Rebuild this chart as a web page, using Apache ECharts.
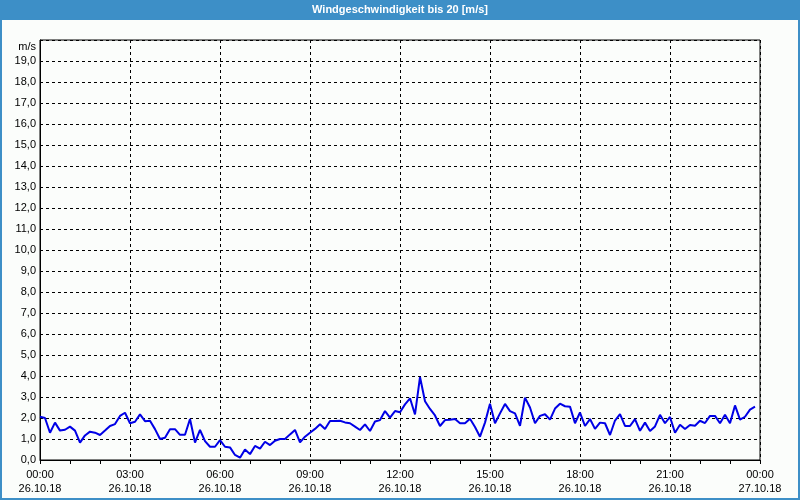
<!DOCTYPE html>
<html>
<head>
<meta charset="utf-8">
<script src="https://cdn.jsdelivr.net/npm/echarts@6/dist/echarts.min.js"></script>
<style>html,body{margin:0;padding:0;background:#fbfdfb}#c{width:800px;height:500px}</style>
</head>
<body>
<div id="c"></div>
<script>
const chartTitle = 'Windgeschwindigkeit bis 20 [m/s]';
const unitLabel = 'm/s';
const sampleStepMinutes = 10;
const xTickLabels = ['00:00\n26.10.18','03:00\n26.10.18','06:00\n26.10.18','09:00\n26.10.18','12:00\n26.10.18','15:00\n26.10.18','18:00\n26.10.18','21:00\n26.10.18','00:00\n27.10.18'];
const windSpeed = [
  2.06,2.0,1.3,1.78,1.4,1.44,1.59,1.4,0.83,1.17,1.35,1.3,1.19,1.4,1.62,1.71,2.1,2.25,1.75,1.82,
  2.17,1.85,1.87,1.47,1.0,1.06,1.47,1.47,1.2,1.2,1.95,0.83,1.43,0.9,0.63,0.63,0.95,0.63,0.6,0.24,
  0.11,0.5,0.28,0.67,0.54,0.87,0.71,0.92,1.0,1.0,1.22,1.43,0.84,1.11,1.3,1.48,1.7,1.48,1.86,1.86,
  1.87,1.79,1.75,1.59,1.43,1.7,1.38,1.83,1.9,2.33,2.02,2.33,2.27,2.65,2.94,2.17,3.95,2.8,2.43,2.12,
  1.62,1.9,1.92,1.95,1.75,1.75,1.96,1.57,1.11,1.78,2.68,1.75,2.22,2.67,2.33,2.22,1.63,2.97,2.5,1.75,
  2.1,2.18,1.92,2.45,2.68,2.56,2.54,1.75,2.26,1.62,1.95,1.48,1.78,1.75,1.19,1.88,2.18,1.62,1.62,1.95,
  1.39,1.78,1.38,1.6,2.15,1.75,2.05,1.3,1.68,1.48,1.67,1.63,1.87,1.76,2.1,2.1,1.75,2.15,1.75,2.6,
  1.92,2.06,2.4,2.54
];

const FONT = 'Liberation Sans';
const chart = echarts.init(document.getElementById('c'), null, {renderer: 'canvas'});
chart.setOption({
  backgroundColor: '#fbfdfb',
  animation: false,
  grid: {left: 40, right: 40, top: 40, bottom: 40, show: true, borderColor: '#000', borderWidth: 1, backgroundColor: 'transparent'},
  xAxis: [{
    type: 'value', min: 0, max: 1440, interval: 180,
    axisLine: {show: true, lineStyle: {color: '#000', width: 1}},
    axisTick: {show: false},
    splitLine: {show: true, lineStyle: {color: '#000', type: [3, 3], width: 1}},
    axisLabel: {
      color: '#000', fontFamily: FONT, fontSize: 11, lineHeight: 14, margin: 8,
      formatter: v => xTickLabels[Math.round(v / 180)] || ''
    }
  }, {
    type: 'value', min: 0, max: 1440, interval: 60, position: 'bottom',
    axisLine: {show: false}, splitLine: {show: false}, axisLabel: {show: false},
    axisTick: {show: true, length: 4, lineStyle: {color: '#000'}}
  }],
  yAxis: {
    type: 'value', min: 0, max: 20, interval: 1,
    axisLine: {show: true, lineStyle: {color: '#000'}},
    axisTick: {show: false},
    splitLine: {show: true, lineStyle: {color: '#000', type: [3, 3], width: 1}},
    axisLabel: {
      color: '#000', fontFamily: FONT, fontSize: 11, margin: 4,
      formatter: v => v >= 20 ? '' : v.toFixed(1).replace('.', ',')
    }
  },
  series: [{
    type: 'line', xAxisIndex: 0, showSymbol: false, symbol: 'none',
    lineStyle: {color: '#0000e6', width: 2},
    data: windSpeed.map((v, i) => [i * sampleStepMinutes, v])
  }],
  graphic: [
    {type: 'rect', left: 0, top: 0, shape: {width: 800, height: 20}, style: {fill: '#3d8fc7'}, z: 10},
    {type: 'rect', left: 0, top: 0, shape: {width: 2, height: 500}, style: {fill: '#3d8fc7'}, z: 10},
    {type: 'rect', right: 0, top: 0, shape: {width: 2, height: 500}, style: {fill: '#3d8fc7'}, z: 10},
    {type: 'rect', left: 0, bottom: 0, shape: {width: 800, height: 2}, style: {fill: '#3d8fc7'}, z: 10},
    {type: 'text', left: 'center', top: 4, z: 11,
      style: {text: chartTitle, fill: '#fff', font: 'bold 11px "Liberation Sans"'}},
    {type: 'text', right: 764, top: 41, z: 11,
      style: {text: unitLabel, fill: '#000', font: '11px "Liberation Sans"', textAlign: 'right'}}
  ]
});
</script>
</body>
</html>
